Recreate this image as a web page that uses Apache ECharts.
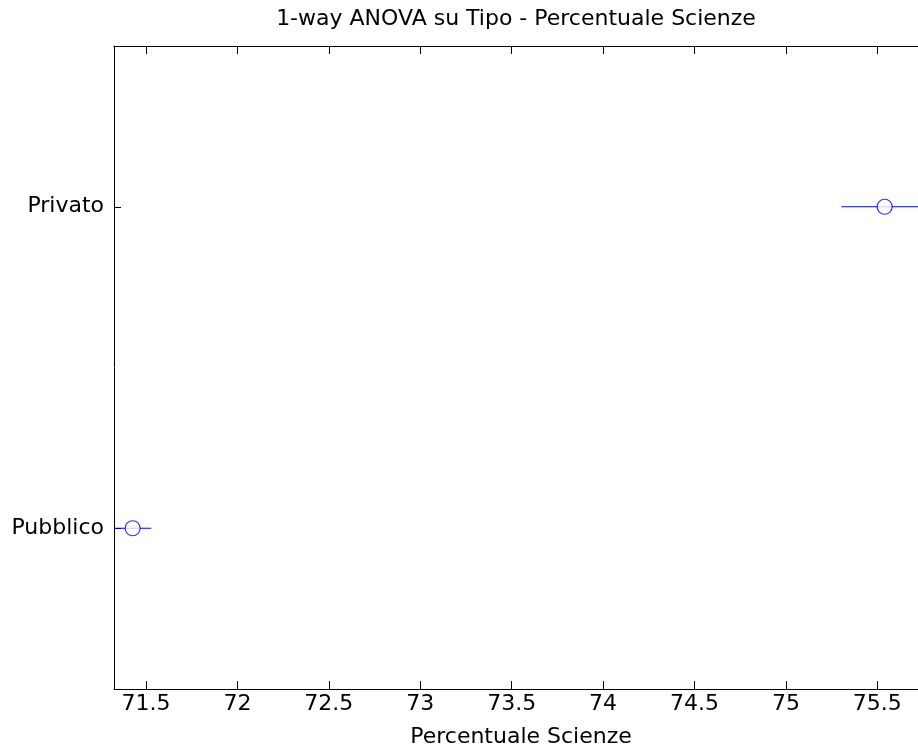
<!DOCTYPE html>
<html>
<head>
<meta charset="utf-8">
<script src="https://cdn.jsdelivr.net/npm/echarts@6/dist/echarts.min.js"></script>
<style>
  html, body { margin: 0; padding: 0; background: #fff; overflow: hidden; }
  /* the drawing surface is a bit wider than the window so the plot box runs past the right edge */
  #chart { width: 940px; height: 752px; }
</style>
</head>
<body>
<div id="chart"></div>
<script>
// Group names, listed bottom to top on the category axis
const groups = ['Pubblico', 'Privato'];
// Group means and 95% comparison interval bounds (Percentuale Scienze)
const means = [71.427, 75.540];
const lowerBounds = [71.325, 75.303];
const upperBounds = [71.529, 75.777];
// X-axis tick values
const xTicks = [71.5, 72, 72.5, 73, 73.5, 74, 74.5, 75, 75.5];

const titleText = '1-way ANOVA su Tipo - Percentuale Scienze';
const xName = 'Percentuale Scienze';

const FONT = 'DejaVu Sans';
const FS = 22;
const BLUE = '#0000ff';

const xMin = Math.min(...lowerBounds);
const xMax = Math.max(...upperBounds);

const intervalSeries = groups.map((g, i) => ({
  type: 'line',
  xAxisIndex: 0,
  yAxisIndex: 0,
  data: [[lowerBounds[i], g], [upperBounds[i], g]],
  symbol: 'none',
  lineStyle: { color: BLUE, width: 1 },
  silent: true,
  animation: false,
  z: 2
}));

const meanSeries = {
  type: 'scatter',
  xAxisIndex: 0,
  yAxisIndex: 0,
  data: groups.map((g, i) => [means[i], g]),
  symbol: 'circle',
  symbolSize: 15,
  itemStyle: { color: '#ffffff', borderColor: BLUE, borderWidth: 1.2 },
  silent: true,
  animation: false,
  z: 3
};

const chart = echarts.init(document.getElementById('chart'));
chart.setOption({
  backgroundColor: '#ffffff',
  animation: false,
  graphic: [{
    type: 'text',
    x: 516,
    y: 8,
    style: {
      text: titleText,
      fontFamily: FONT,
      fontSize: FS,
      fill: '#000',
      textAlign: 'center',
      textVerticalAlign: 'top'
    }
  }],
  grid: { left: 114, width: 814, top: 46, bottom: 63, containLabel: false, outerBoundsMode: 'none' },
  xAxis: [{
    type: 'value',
    position: 'bottom',
    min: xMin,
    max: xMax,
    name: xName,
    nameLocation: 'middle',
    nameGap: 37,
    nameTextStyle: { fontFamily: FONT, fontSize: FS, color: '#000' },
    axisLine: { show: true, lineStyle: { color: '#000', width: 1 } },
    axisTick: { show: true, inside: true, length: 8, customValues: xTicks, lineStyle: { color: '#000' } },
    axisLabel: { show: true, customValues: xTicks, margin: 4, fontFamily: FONT, fontSize: FS, color: '#000',
      formatter: v => String(v) },
    splitLine: { show: false }
  }, {
    type: 'value',
    position: 'top',
    min: xMin,
    max: xMax,
    axisLine: { show: true, lineStyle: { color: '#000', width: 1 } },
    axisTick: { show: true, inside: true, length: 8, customValues: xTicks, lineStyle: { color: '#000' } },
    axisLabel: { show: false },
    splitLine: { show: false }
  }],
  yAxis: [{
    type: 'category',
    data: groups,
    boundaryGap: true,
    axisLine: { show: true, lineStyle: { color: '#000', width: 1 } },
    axisTick: { show: true, inside: true, length: 7, alignWithLabel: true, lineStyle: { color: '#000' } },
    axisLabel: { margin: 10, fontFamily: FONT, fontSize: FS, color: '#000' },
    splitLine: { show: false }
  }],
  series: [...intervalSeries, meanSeries]
});
</script>
</body>
</html>
